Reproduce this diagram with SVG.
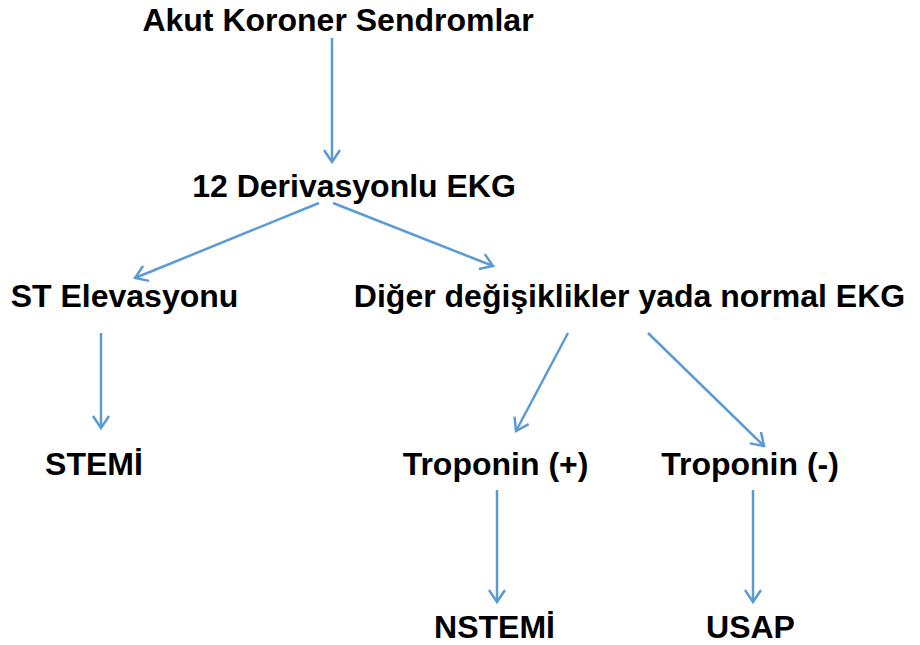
<svg xmlns="http://www.w3.org/2000/svg" width="920" height="645" viewBox="0 0 920 645">
<style>
text{font-family:"Liberation Sans",Arial,sans-serif;font-weight:bold;font-size:32px;fill:#000;text-anchor:middle}
.c line{stroke:#5B9BD5;stroke-width:2.5;fill:none;marker-end:url(#a)}
</style>
<defs>
<marker id="a" viewBox="0 0 20 20" refX="17" refY="10" markerWidth="20" markerHeight="20" markerUnits="userSpaceOnUse" orient="auto">
<path d="M5,2 L17,10 L5,18" fill="none" stroke="#5B9BD5" stroke-width="2.5"/>
</marker>
</defs>
<rect width="920" height="645" fill="#fff"/>
<g class="c" id="connectors">
<line x1="332" y1="38" x2="332" y2="162"/>
<line x1="319" y1="203" x2="135" y2="278"/>
<line x1="333" y1="203" x2="493" y2="266"/>
<line x1="101" y1="333" x2="101" y2="428"/>
<line x1="568" y1="333" x2="516" y2="431"/>
<line x1="648" y1="333" x2="764" y2="446"/>
<line x1="497" y1="490" x2="497" y2="602"/>
<line x1="753" y1="490" x2="753" y2="602"/>
</g>
<g id="n1"><text x="338" y="31">Akut Koroner Sendromlar</text></g>
<g id="n2"><text x="354" y="197">12 Derivasyonlu EKG</text></g>
<g id="n3"><text x="124.5" y="307">ST Elevasyonu</text></g>
<g id="n4"><text x="629.5" y="307">Diğer değişiklikler yada normal EKG</text></g>
<g id="n5"><text x="94" y="475">STEMİ</text></g>
<g id="n6"><text x="495.5" y="475">Troponin (+)</text></g>
<g id="n7"><text x="750" y="475">Troponin (-)</text></g>
<g id="n8"><text x="494.5" y="638">NSTEMİ</text></g>
<g id="n9"><text x="750.5" y="638">USAP</text></g>
</svg>
